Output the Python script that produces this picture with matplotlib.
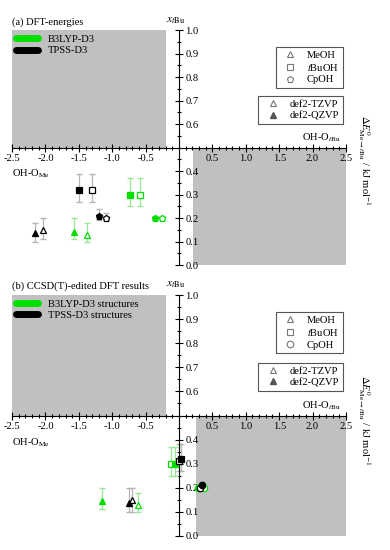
import matplotlib
matplotlib.use("Agg")
import matplotlib.pyplot as plt
from matplotlib.patches import Rectangle
from matplotlib.lines import Line2D
from matplotlib.ticker import MultipleLocator

plt.rcParams['font.family'] = ['Liberation Serif', 'DejaVu Serif']
plt.rcParams['mathtext.fontset'] = 'stix'

# panel (a): DFT energies
a_x = [-2.16, -2.03, -1.58, -1.38, -1.50, -1.30, -1.20, -1.10, -0.73, -0.59, -0.36, -0.26]
a_y = [0.135, 0.15, 0.14, 0.13, 0.32, 0.32, 0.21, 0.20, 0.30, 0.30, 0.20, 0.20]
a_lo = [0.10, 0.11, 0.11, 0.10, 0.27, 0.27, 0.19, 0.19, 0.25, 0.25, 0.19, 0.19]
a_hi = [0.18, 0.20, 0.20, 0.18, 0.39, 0.39, 0.24, 0.22, 0.37, 0.37, 0.21, 0.21]
a_func = ['TPSS', 'TPSS', 'B3LYP', 'B3LYP', 'TPSS', 'TPSS', 'TPSS', 'TPSS', 'B3LYP', 'B3LYP', 'B3LYP', 'B3LYP']
a_mol = ['MeOH', 'MeOH', 'MeOH', 'MeOH', 'tBuOH', 'tBuOH', 'CpOH', 'CpOH', 'tBuOH', 'tBuOH', 'CpOH', 'CpOH']
a_basis = ['QZVP', 'TZVP', 'QZVP', 'TZVP', 'QZVP', 'TZVP', 'QZVP', 'TZVP', 'QZVP', 'TZVP', 'QZVP', 'TZVP']

# panel (b): CCSD(T)-edited results
b_x = [-1.16, -0.61, -0.71, -0.75, -0.12, -0.06, 0.00, 0.03, 0.29, 0.37, 0.31, 0.34]
b_y = [0.145, 0.13, 0.15, 0.135, 0.30, 0.30, 0.31, 0.32, 0.20, 0.20, 0.20, 0.21]
b_lo = [0.11, 0.10, 0.10, 0.10, 0.25, 0.25, 0.27, 0.27, 0.19, 0.19, 0.19, 0.19]
b_hi = [0.20, 0.18, 0.20, 0.20, 0.37, 0.37, 0.38, 0.38, 0.22, 0.22, 0.22, 0.23]
b_func = ['B3LYP', 'B3LYP', 'TPSS', 'TPSS', 'B3LYP', 'B3LYP', 'TPSS', 'TPSS', 'B3LYP', 'B3LYP', 'TPSS', 'TPSS']
b_mol = ['MeOH', 'MeOH', 'MeOH', 'MeOH', 'tBuOH', 'tBuOH', 'tBuOH', 'tBuOH', 'CpOH', 'CpOH', 'CpOH', 'CpOH']
b_basis = ['QZVP', 'TZVP', 'TZVP', 'QZVP', 'TZVP', 'QZVP', 'TZVP', 'QZVP', 'QZVP', 'TZVP', 'TZVP', 'QZVP']

colors = {'B3LYP': '#00e000', 'TPSS': 'black'}
ecolors = {'B3LYP': '#9be69b', 'TPSS': '#b5b5b5'}
markers = {'MeOH': '^', 'tBuOH': 's', 'CpOH': 'p'}
grey = '#c0c0c0'
fs = 7.6


def panel(ax, xs, ys, lo, hi, func, mol, basis, title, func_labels, cp_marker, gx):
    ax.set_xlim(-2.5, 2.5)
    ax.set_ylim(0, 1)
    ax.add_patch(Rectangle((-2.5, 0.5), 2.3, 0.5, color=grey, zorder=0, lw=0))
    ax.add_patch(Rectangle((gx, 0.0), 2.5 - gx, 0.5, color=grey, zorder=0, lw=0))

    for i in range(len(xs)):
        c = colors[func[i]]
        m = markers[mol[i]]
        if mol[i] == 'CpOH':
            m = cp_marker
        face = c if basis[i] == 'QZVP' else 'white'
        ax.errorbar(xs[i], ys[i], yerr=[[ys[i] - lo[i]], [hi[i] - ys[i]]],
                    fmt='none', ecolor=ecolors[func[i]], elinewidth=0.9,
                    capsize=2.5, zorder=2)
        ax.plot(xs[i], ys[i], marker=m, markersize=4.6, markerfacecolor=face,
                markeredgecolor=c, markeredgewidth=0.9, linestyle='None', zorder=3)

    ax.spines['top'].set_visible(False)
    ax.spines['left'].set_visible(False)
    ax.spines['right'].set_position(('data', 0))
    ax.spines['bottom'].set_position(('data', 0.5))
    ax.yaxis.set_ticks_position('right')
    ax.xaxis.set_ticks_position('bottom')
    ax.set_xticks([-2.5, -2.0, -1.5, -1.0, -0.5, 0.5, 1.0, 1.5, 2.0, 2.5])
    ax.set_yticks([0.0, 0.1, 0.2, 0.3, 0.4, 0.6, 0.7, 0.8, 0.9, 1.0])
    ax.xaxis.set_minor_locator(MultipleLocator(0.1))
    ax.yaxis.set_minor_locator(MultipleLocator(0.05))
    ax.tick_params(which='major', direction='inout', length=6, width=0.8, labelsize=fs, pad=1.5)
    ax.tick_params(which='minor', direction='inout', length=3.5, width=0.8)
    ax.set_xticklabels(['-2.5', '-2.0', '-1.5', '-1.0', '-0.5', '0.5', '1.0', '1.5', '2.0', '2.5'])

    ax.text(-2.5, 1.015, title, fontsize=fs, ha='left', va='bottom')
    ax.text(-0.05, 1.02, r'$x_{t\mathrm{Bu}}$', fontsize=8.5, ha='center', va='bottom')
    ax.text(2.42, 0.515, r'OH-O$_{t\mathrm{Bu}}$', fontsize=fs, ha='right', va='bottom')
    ax.text(-2.5, 0.415, r'OH-O$_{\mathrm{Me}}$', fontsize=fs, ha='left', va='top')

    # functional legend
    h1 = [Line2D([], [], color=colors['B3LYP'], lw=5, solid_capstyle='round'),
          Line2D([], [], color=colors['TPSS'], lw=5, solid_capstyle='round')]
    leg1 = ax.legend(h1, func_labels, loc='upper left', bbox_to_anchor=(0.0, 1.0),
                     frameon=False, fontsize=fs, handlelength=2.1, handletextpad=0.9,
                     labelspacing=0.2, borderaxespad=0.1, borderpad=0.3)
    ax.add_artist(leg1)

    # molecule legend
    h2 = [Line2D([], [], marker='^', color='#777777', mfc='white', ls='None', ms=4.8, mew=0.8),
          Line2D([], [], marker='s', color='#777777', mfc='white', ls='None', ms=4.2, mew=0.8),
          Line2D([], [], marker=cp_marker, color='#777777', mfc='white', ls='None', ms=4.8, mew=0.8)]
    leg2 = ax.legend(h2, ['MeOH', r'$t$BuOH', 'CpOH'], loc='upper right',
                     bbox_to_anchor=(0.99, 0.93), fontsize=fs, fancybox=False,
                     edgecolor='#555555', framealpha=1, handlelength=2.0,
                     handletextpad=0.6, labelspacing=0.2, borderpad=0.35,
                     borderaxespad=0)
    leg2.get_frame().set_linewidth(0.8)
    ax.add_artist(leg2)

    # basis-set legend
    h3 = [Line2D([], [], marker='^', color='#777777', mfc='white', ls='None', ms=4.8, mew=0.8),
          Line2D([], [], marker='^', color='#555555', mfc='#555555', ls='None', ms=4.8)]
    leg3 = ax.legend(h3, ['def2-TZVP', 'def2-QZVP'], loc='upper right',
                     bbox_to_anchor=(0.99, 0.72), fontsize=fs, fancybox=False,
                     edgecolor='#555555', framealpha=1, handlelength=2.0,
                     handletextpad=0.6, labelspacing=0.2, borderpad=0.35,
                     borderaxespad=0)
    leg3.get_frame().set_linewidth(0.8)


fig = plt.figure(figsize=(3.9, 5.5), dpi=100)
ax1 = fig.add_axes([0.031, 0.518, 0.856, 0.427])
ax2 = fig.add_axes([0.031, 0.0255, 0.856, 0.438])

panel(ax1, a_x, a_y, a_lo, a_hi, a_func, a_mol, a_basis, '(a) DFT-energies',
      ['B3LYP-D3', 'TPSS-D3'], 'p', 0.21)
panel(ax2, b_x, b_y, b_lo, b_hi, b_func, b_mol, b_basis, '(b) CCSD(T)-edited DFT results',
      ['B3LYP-D3 structures', 'TPSS-D3 structures'], 'o', 0.25)

ylab = r'$\Delta E^{0}_{\mathrm{Me}\rightarrow t\mathrm{Bu}}$ / kJ mol$^{-1}$'
fig.text(0.935, 0.708, ylab, rotation=-90, fontsize=fs, ha='center', va='center')
fig.text(0.935, 0.235, ylab, rotation=-90, fontsize=fs, ha='center', va='center')

fig.savefig("out.png", dpi=100)
